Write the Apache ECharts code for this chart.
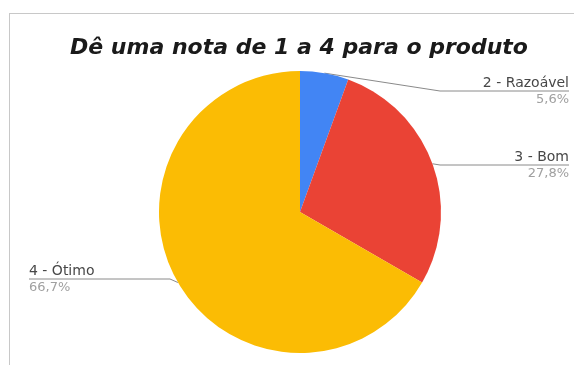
<!DOCTYPE html>
<html><head><meta charset="utf-8">
<script src="https://cdn.jsdelivr.net/npm/echarts@6/dist/echarts.min.js"></script>
<style>html,body{margin:0;padding:0;background:#fff}#c{width:574px;height:365px}</style>
</head><body><div id="c"></div>
<script>
const titleText = 'Dê uma nota de 1 a 4 para o produto';
const categories = ['2 - Razoável', '3 - Bom', '4 - Ótimo'];
const values = [1, 5, 12];
const colors = ['#4285F4', '#EA4335', '#FBBC04'];

// label layout (styling only)
const lineY = [91, 165, 279];
const cornerX = [440, 440, 170];

const total = values.reduce((a, b) => a + b, 0);

const chart = echarts.init(document.getElementById('c'), null, {renderer: 'canvas'});
chart.setOption({
  animation: false,
  backgroundColor: '#fff',
  title: {
    text: titleText,
    left: 65, top: 32,
    textStyle: {fontFamily: 'DejaVu Sans', fontSize: 22, fontWeight: 'bold', fontStyle: 'italic', color: '#1a1a1a'}
  },
  graphic: [
    {type: 'line', shape: {x1: 10, y1: 13.5, x2: 574, y2: 13.5}, style: {stroke: '#c8c8c8', lineWidth: 1}},
    {type: 'line', shape: {x1: 9.5, y1: 13, x2: 9.5, y2: 365}, style: {stroke: '#c8c8c8', lineWidth: 1}}
  ],
  series: [{
    type: 'pie',
    center: [300, 212],
    radius: 141,
    startAngle: 90,
    clockwise: true,
    data: categories.map((c, i) => ({name: c, value: values[i], itemStyle: {color: colors[i]},
      label: {edgeDistance: i === 2 ? 29 : 5}})),
    label: {
      show: true,
      alignTo: 'edge',
      formatter: p => '{n|' + p.name + '}\n{p|' + (values[p.dataIndex] / total * 100).toFixed(1).replace('.', ',') + '%}',
      rich: {
        n: {fontFamily: 'DejaVu Sans', fontSize: 14, color: '#474747', lineHeight: 16},
        p: {fontFamily: 'DejaVu Sans', fontSize: 13, color: '#a0a0a0', lineHeight: 18}
      }
    },
    labelLine: {show: true, length: 10, length2: 10, lineStyle: {color: '#8a8a8a', width: 1}},
    labelLayout: function (p) {
      const i = p.dataIndex;
      const pts = p.labelLinePoints;
      if (!pts) return {};
      const right = i !== 2;
      const y = lineY[i];
      const endX = right ? 569 : 29;
      return {
        y: y + 1,
        labelLinePoints: [pts[0], [cornerX[i], y], [endX, y]]
      };
    }
  }]
});
</script>
</body></html>
